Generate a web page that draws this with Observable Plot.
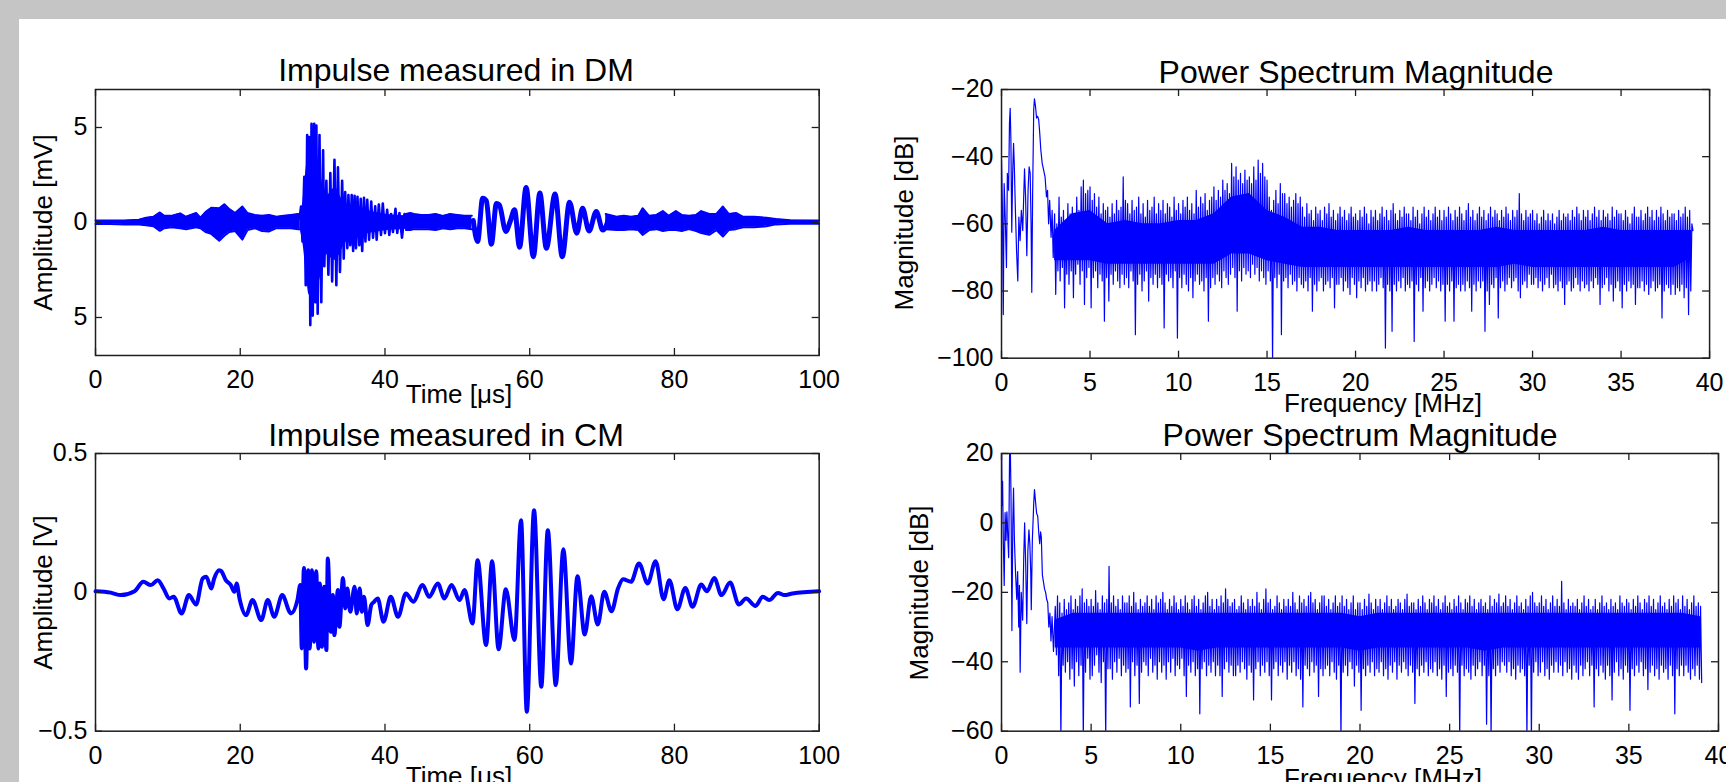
<!DOCTYPE html>
<html>
<head>
<meta charset="utf-8">
<script src="https://cdn.jsdelivr.net/npm/d3@7"></script>
<script src="https://cdn.jsdelivr.net/npm/@observablehq/plot@0.6"></script>
<style>
html, body { margin: 0; padding: 0; width: 1726px; height: 782px; overflow: hidden; background: #c4c5c4; }
#sheet { position: absolute; left: 19px; top: 19px; width: 1720px; height: 780px; background: #ffffff; }
#root { position: absolute; left: 0; top: 0; width: 1726px; height: 782px; overflow: hidden; }
</style>
</head>
<body>
<div id="sheet"></div>
<div id="root"></div>
<script>
// ---------------- DATA ----------------
// Tick values
const timeTicks = [0, 20, 40, 60, 80, 100];
const freqTicks = [0, 5, 10, 15, 20, 25, 30, 35, 40];
const dmYTicks = [-5, 0, 5];
const cmYTicks = [-0.5, 0, 0.5];
const trYTicks = [-100, -80, -60, -40, -20];
const brYTicks = [-60, -40, -20, 0, 20];

// DM impulse: envelope of the dense noise band [µs, mV] (gaps where the burst and the clean oscillation are drawn)
const dmT  = [0, 2, 4, 6, 7, 8, 8.9, 9.5, 10.5, 11.7, 12.5, 13.9, 14.5, 15.2, 16, 17.1, 17.8, 18.5, 19.3, 20.3, 21, 22, 23, 24, 25, 26, 27, 28, 28.3, 28.4, 42.9, 43.5, 44, 45, 46, 47, 48, 49, 50, 51, 52, 52.5, 70.5, 72, 73, 74, 75, 75.6, 76.5, 77.5, 78.4, 79.2, 80.2, 81, 82, 83, 83.7, 84.8, 85.8, 86.7, 87.5, 88.5, 89.5, 91, 92.7, 94, 96, 100];
const dmHi = [0.1, 0.1, 0.1, 0.14, 0.25, 0.3, 0.53, 0.35, 0.35, 0.48, 0.3, 0.5, 0.25, 0.55, 0.78, 0.75, 0.96, 0.7, 0.5, 0.84, 0.5, 0.4, 0.35, 0.4, 0.3, 0.35, 0.4, 0.45, 0.4, NaN, 0.45, 0.5, 0.45, 0.4, 0.4, 0.45, 0.35, 0.45, 0.4, 0.35, 0.35, NaN, 0.45, 0.3, 0.35, 0.3, 0.35, 0.75, 0.35, 0.4, 0.6, 0.35, 0.6, 0.4, 0.35, 0.4, 0.6, 0.45, 0.45, 0.84, 0.45, 0.5, 0.3, 0.3, 0.25, 0.18, 0.12, 0.1];
const dmLo = [-0.08, -0.08, -0.1, -0.1, -0.15, -0.2, -0.44, -0.3, -0.25, -0.3, -0.35, -0.25, -0.3, -0.5, -0.6, -0.96, -0.7, -0.5, -0.45, -0.9, -0.4, -0.3, -0.45, -0.47, -0.3, -0.3, -0.3, -0.35, -0.35, NaN, -0.4, -0.4, -0.35, -0.35, -0.35, -0.4, -0.3, -0.35, -0.3, -0.3, -0.35, NaN, -0.35, -0.4, -0.4, -0.35, -0.4, -0.65, -0.4, -0.35, -0.45, -0.4, -0.4, -0.45, -0.35, -0.45, -0.55, -0.65, -0.4, -0.74, -0.4, -0.35, -0.25, -0.25, -0.2, -0.1, -0.06, -0.06];
// DM impulse: solid inner part of the main burst [µs, mV]
const dmCoreT  = [28.3, 28.7, 29.1, 29.5, 30.0, 30.5, 31.0, 31.5, 32.0, 32.6, 33.2, 33.8, 34.5, 35.3, 36.2, 37.5, 39.0, 41.0, 43.0];
const dmCoreHi = [0.4, 1.2, 2.8, 3.6, 3.9, 3.6, 2.8, 1.8, 1.4, 1.7, 1.8, 1.4, 1.0, 0.9, 0.8, 0.65, 0.5, 0.4, 0.35];
const dmCoreLo = [-0.4, -1.2, -2.6, -3.8, -3.9, -3.5, -3.0, -2.0, -1.7, -1.9, -2.0, -1.6, -1.1, -0.9, -0.8, -0.6, -0.5, -0.4, -0.35];
// DM impulse: main burst, successive spike tips [µs, mV]
const dmBurstT = [28.2, 28.4, 28.6, 28.85, 29.05, 29.25, 29.4, 29.55, 29.68, 29.85, 30.02, 30.22, 30.38, 30.52, 30.7, 30.95, 31.2, 31.45, 31.62, 31.9, 32.18, 32.45, 32.7, 33.02, 33.28, 33.5, 33.78, 34.08, 34.3, 34.5, 34.8, 34.95, 35.2, 35.4, 35.6, 35.8, 36.0, 36.2, 36.45, 36.65, 36.85, 37.1, 37.3, 37.55, 37.8, 38.1, 38.35, 38.65, 38.85, 39.15, 39.45, 39.7, 40.0, 40.3, 40.6, 40.85, 41.1, 41.45, 41.7, 42.0, 42.35, 42.7, 43.0];
const dmBurstV = [0.2, 0.84, -1.0, 2.4, -3.3, 4.6, -2.0, 4.5, -5.4, 5.2, -4.9, 5.2, -4.2, 5.1, -4.8, 4.6, -4.2, 3.8, -2.3, 2.2, -2.75, 2.6, -3.1, 3.3, -3.3, 2.9, -2.6, 2.2, -1.9, 1.6, -1.35, 1.45, -1.2, 1.45, -1.5, 1.4, -1.35, 1.35, -1.2, 1.25, -1.5, 1.3, -1.0, 1.2, -0.9, 1.1, -0.8, 0.85, -0.9, 0.95, -0.65, 1.0, -0.56, 0.67, -0.65, 0.45, -0.5, 0.72, -0.55, 0.5, -0.8, 0.45, -0.35];
// DM impulse: clean oscillation, successive peaks and troughs [µs, mV]
const dmOscT = [52.2, 52.8, 53.5, 54.0, 54.7, 55.4, 55.8, 56.7, 57.3, 57.9, 58.6, 59.5, 60.5, 61.4, 62.3, 63.5, 64.5, 65.5, 66.5, 67.3, 68.2, 69.2, 70.1, 71.0];
const dmOscV = [0.1, -1.0, 1.28, 1.15, -1.14, 1.0, 0.93, -0.47, 0.05, 0.67, -1.3, 1.84, -1.8, 1.55, -1.35, 1.5, -1.8, 1.07, -0.56, 0.75, -0.45, 0.58, -0.4, 0.3];

// CM impulse: successive peaks and troughs [µs, V]
const cmT = [0, 2.1, 3.5, 5.4, 6.6, 7.65, 8.6, 9.4, 10.2, 10.8, 11.9, 12.9, 13.9, 14.8, 15.3, 16.0, 16.4, 17.1, 17.4, 18.0, 18.7, 19.2, 19.5, 19.9, 20.8, 21.7, 22.9, 23.8, 24.7, 25.8, 27.0, 27.9, 28.3, 28.5, 28.8, 29.1, 29.4, 29.6, 29.9, 30.2, 30.5, 30.8, 31.0, 31.3, 31.6, 31.9, 32.1, 32.5, 32.8, 33.0, 33.5, 33.7, 34.2, 34.5, 34.8, 35.2, 35.8, 36.1, 36.5, 36.8, 37.1, 37.6, 38.1, 38.5, 39.0, 39.8, 40.8, 41.8, 42.9, 43.9, 45.2, 46.1, 47.3, 48.2, 49.2, 50.3, 51.0, 52.1, 52.8, 53.97, 54.8, 55.7, 56.7, 57.9, 58.8, 59.6, 60.6, 61.6, 62.5, 63.6, 64.65, 65.7, 66.6, 67.6, 68.5, 69.4, 70.3, 71.3, 72.2, 72.9, 74.0, 75.1, 76.3, 77.4, 78.5, 79.3, 80.4, 81.5, 82.5, 83.7, 84.5, 85.5, 86.5, 87.7, 88.9, 89.9, 91.2, 92.2, 93.1, 94.3, 95.2, 96.3, 100];
const cmV = [0.004, -0.001, -0.010, 0.004, 0.038, 0.026, 0.044, 0.014, -0.022, -0.016, -0.076, -0.010, -0.044, 0.050, 0.056, 0.014, 0.050, 0.080, 0.076, 0.044, 0.026, 0.002, 0.032, -0.022, -0.082, -0.028, -0.100, -0.028, -0.088, -0.010, -0.076, -0.028, 0.026, -0.202, 0.088, -0.274, 0.080, -0.202, 0.080, -0.178, 0.076, -0.202, 0.032, -0.196, 0.020, -0.208, 0.122, -0.142, -0.010, -0.154, 0.008, -0.124, 0.052, -0.058, 0.014, -0.070, 0.020, -0.076, 0.014, -0.070, -0.016, -0.118, -0.046, -0.034, -0.022, -0.106, -0.016, -0.088, -0.004, -0.034, 0.026, -0.016, 0.032, -0.022, 0.026, -0.028, 0.008, -0.112, 0.116, -0.190, 0.112, -0.205, 0.011, -0.172, 0.260, -0.430, 0.296, -0.340, 0.224, -0.334, 0.155, -0.256, 0.058, -0.152, -0.014, -0.116, 0.002, -0.068, 0.014, 0.047, 0.038, 0.104, 0.032, 0.112, -0.025, 0.044, -0.061, 0.016, -0.052, 0.028, 0.004, 0.052, -0.010, 0.035, -0.044, -0.022, -0.049, -0.016, -0.028, -0.002, -0.010, -0.004, 0.004];

// Spectra [MHz, dB]: low-frequency trace, then the upper / lower tip of the trace in each frequency bin
const binStart = 3, binStep = 0.125; // bins of the tip lists below (3 … 39 MHz, one row = 1 MHz)

// DM spectrum
const trHeadF = [0, 0.05, 0.10, 0.15, 0.22, 0.28, 0.33, 0.40, 0.45, 0.49, 0.53, 0.58, 0.63, 0.68, 0.72, 0.78, 0.85, 0.92, 0.98, 1.05, 1.12, 1.20, 1.30, 1.36, 1.43, 1.50, 1.56, 1.62, 1.67, 1.71, 1.76, 1.82, 1.86, 1.92, 1.98, 2.04, 2.10, 2.16, 2.22, 2.30, 2.38, 2.46, 2.54, 2.60, 2.66, 2.72, 2.80, 2.86, 2.92];
const trHeadV = [-41, -55, -87, -48, -60, -73, -45, -50, -30, -25.6, -35, -62.5, -45, -36, -42, -55, -68, -77, -58, -65, -56, -62, -43.6, -52, -69.5, -50, -43, -45, -60, -80.4, -50, -26, -22.8, -25, -28.5, -28, -29, -33, -38, -42, -44, -46, -52, -50, -60, -53, -64, -56, -70];
const trHi = [
  -57, -60, -52, -58, -56, -61, -54, -57,
  -55, -58, -52, -56, -49, -47, -51, -50,
  -49, -53, -51, -55, -52, -57, -54, -56,
  -55, -58, -54, -57, -53, -56, -55, -46,
  -53, -54, -57, -53, -56, -55, -52, -57,
  -54, -58, -53, -56, -55, -52, -57, -54,
  -56, -53, -57, -54, -55, -58, -52, -56,
  -54, -57, -53, -55, -52, -56, -54, -57,
  -50, -55, -52, -54, -51, -56, -53, -52,
  -49, -53, -50, -52, -47, -50, -48, -51,
  -42, -46, -43, -47, -45, -48, -44, -47,
  -46, -48, -43, -47, -41, -45, -42, -46,
  -47, -52, -56, -53, -50, -54, -48, -51,
  -51, -54, -52, -55, -53, -51, -54, -52,
  -55, -58, -54, -57, -56, -59, -55, -57,
  -56, -59, -55, -57, -54, -58, -56, -59,
  -57, -55, -58, -56, -59, -57, -55, -58,
  -57, -59, -56, -58, -55, -57, -60, -56,
  -58, -56, -59, -57, -55, -58, -56, -59,
  -56, -54, -57, -59, -56, -58, -55, -57,
  -57, -59, -55, -58, -56, -60, -57, -55,
  -58, -56, -59, -57, -55, -58, -56, -59,
  -56, -58, -55, -57, -59, -56, -58, -55,
  -57, -59, -56, -54, -58, -56, -59, -57,
  -55, -58, -56, -59, -57, -55, -58, -56,
  -57, -59, -56, -58, -55, -57, -59, -56,
  -58, -56, -51, -57, -59, -56, -58, -57,
  -56, -59, -57, -60, -58, -56, -59, -57,
  -59, -57, -60, -58, -56, -59, -57, -58,
  -57, -59, -56, -58, -55, -57, -59, -56,
  -58, -56, -59, -57, -55, -58, -56, -59,
  -56, -58, -57, -59, -55, -58, -56, -57,
  -57, -59, -56, -58, -60, -57, -55, -58,
  -58, -56, -59, -57, -55, -58, -56, -59,
  -56, -58, -55, -57, -59, -56, -58, -57,
  -57, -59, -56, -58, -57, -55, -58, -56,
  -60];
const trLo = [
  -81, -74, -77, -73, -85, -75, -78, -74,
  -82, -75, -72, -78, -74, -84, -76, -73,
  -85, -76, -74, -79, -75, -77, -89, -76,
  -83, -75, -78, -74, -77, -79, -75, -78,
  -76, -79, -74, -77, -93, -78, -75, -80,
  -77, -74, -83, -76, -78, -75, -79, -76,
  -78, -91, -75, -77, -76, -79, -74, -94,
  -76, -79, -75, -78, -80, -76, -82, -77,
  -75, -78, -77, -80, -76, -89, -79, -76,
  -78, -75, -77, -79, -74, -76, -78, -75,
  -73, -76, -86, -74, -77, -73, -75, -74,
  -76, -72, -75, -73, -77, -74, -76, -78,
  -74, -77, -101, -76, -79, -75, -93, -77,
  -76, -79, -75, -78, -77, -80, -76, -78,
  -79, -77, -80, -76, -86, -78, -80, -77,
  -76, -80, -78, -77, -79, -76, -85, -78,
  -78, -76, -80, -77, -79, -81, -76, -78,
  -82, -77, -79, -76, -80, -78, -77, -80,
  -77, -80, -78, -76, -79, -97, -78, -80,
  -92, -78, -80, -77, -79, -76, -80, -78,
  -79, -77, -95, -78, -80, -76, -86, -79,
  -77, -80, -78, -76, -79, -77, -80, -78,
  -89, -78, -80, -77, -89, -79, -78, -80,
  -78, -80, -77, -79, -86, -78, -80, -77,
  -79, -77, -92, -80, -84, -78, -79, -76,
  -88, -79, -77, -80, -78, -76, -79, -77,
  -76, -80, -82, -78, -77, -79, -75, -78,
  -78, -76, -79, -77, -80, -78, -76, -79,
  -75, -79, -78, -80, -77, -79, -84, -78,
  -77, -80, -79, -76, -78, -80, -77, -79,
  -78, -80, -77, -79, -76, -78, -84, -79,
  -78, -76, -80, -78, -83, -79, -77, -80,
  -85, -78, -80, -77, -79, -78, -84, -79,
  -79, -77, -80, -78, -81, -79, -77, -80,
  -79, -78, -88, -80, -78, -79, -81, -78,
  -81, -79, -80, -78, -82, -79, -87, -80,
  -62];
// DM spectrum: solid core of the noise floor, one value per MHz (3 … 39 MHz)
const trCoreF  = [3, 4, 5, 6, 7, 8, 9, 10, 11, 12, 13, 14, 15, 16, 17, 18, 19, 20, 21, 22, 23, 24, 25, 26, 27, 28, 29, 30, 31, 32, 33, 34, 35, 36, 37, 38, 39];
const trCoreHi = [-62, -57, -56, -60, -59, -60, -60, -59, -59, -57, -52, -51, -56, -58, -61, -61, -62, -62, -62, -62, -61, -62, -62, -62, -62, -61, -62, -62, -62, -62, -62, -61, -62, -62, -62, -62, -62];
const trCoreLo = [-71, -71, -71, -72, -72, -72, -72, -72, -72, -72, -69, -69, -71, -72, -73, -73, -73, -73, -73, -73, -73, -73, -73, -73, -73, -73, -72, -73, -73, -73, -73, -73, -73, -73, -73, -73, -70];

// CM spectrum
const brHeadF = [0, 0.03, 0.06, 0.10, 0.15, 0.20, 0.25, 0.30, 0.35, 0.40, 0.45, 0.49, 0.53, 0.58, 0.63, 0.67, 0.72, 0.78, 0.85, 0.90, 0.96, 1.00, 1.04, 1.10, 1.18, 1.24, 1.29, 1.35, 1.41, 1.47, 1.53, 1.58, 1.63, 1.66, 1.72, 1.80, 1.84, 1.90, 1.96, 2.02, 2.08, 2.13, 2.18, 2.22, 2.28, 2.34, 2.40, 2.46, 2.52, 2.58, 2.64, 2.70, 2.76, 2.82, 2.90];
const brHeadV = [22, 5, 12, -5, -18, 3, -5, 3.2, -4, -10, 20, 22, 8, -31, 0, 10, -5, -14, -22, -14, -30, -18, -43, -20, -28, -10, 0, -12, -29, -8, -2, -6, -14, -25, -5, 6, 9.6, 6, 2.7, 2, -3, -6, -2.6, -4, -15, -17, -19, -20, -22, -23, -30, -26, -34, -27, -37];
const brHi = [
  -24, -21, -23, -26, -22, -25, -23, -21,
  -25, -22, -24, -21, -19, -23, -22, -24,
  -22, -24, -19.5, -23, -25, -21, -23, -22,
  -12.5, -23, -21, -24, -22, -25, -21, -23,
  -23, -21, -24, -20, -23, -25, -22, -24,
  -23, -21, -24, -22, -25, -21, -23, -22,
  -20, -23, -25, -22, -24, -21, -23, -25,
  -22, -24, -21, -23, -25, -22, -21, -24,
  -22, -25, -23, -21, -20, -24, -22, -25,
  -22, -24, -21, -23, -19, -22, -24, -23,
  -22, -25, -24, -21, -23, -25, -22, -24,
  -22, -24, -20, -23, -25, -22, -19, -23,
  -22, -25, -24, -21, -23, -25, -22, -24,
  -22, -24, -20, -23, -25, -21, -23, -22,
  -24, -21, -20, -23, -22, -25, -23, -21,
  -21, -24, -22, -25, -23, -21, -24, -23,
  -21, -24, -22, -25, -23, -21, -25, -23,
  -23, -25, -22, -24, -20.5, -23, -25, -22,
  -24, -22, -25, -23, -21, -24, -22, -25,
  -24, -22, -23, -25, -22, -20.5, -24, -23,
  -23, -25, -22, -24, -21, -23, -25, -22,
  -23, -21, -24, -22, -25, -23, -21, -24,
  -23, -25, -22, -24, -21, -23, -25, -22,
  -23, -21, -24, -22, -25, -23, -22, -24,
  -23, -25, -21, -24, -22, -23, -20.5, -24,
  -23, -21, -24, -22, -25, -23, -21, -24,
  -23, -25, -22, -24, -21, -20, -23, -24,
  -23, -21, -24, -22, -25, -23, -21, -24,
  -22, -24, -16.8, -23, -25, -22, -24, -23,
  -24, -22, -25, -23, -21, -24, -22, -25,
  -24, -22, -25, -23, -21, -24, -23, -25,
  -22, -24, -23, -25, -21, -23, -24, -22,
  -23, -25, -22, -24, -21, -23, -25, -22,
  -23, -21, -24, -22, -25, -23, -21, -24,
  -23, -25, -22, -24, -21, -23, -22, -25,
  -21, -24, -22, -25, -23, -21, -24, -23,
  -24];
const brLo = [
  -38, -44, -62, -41, -43, -40, -45, -42,
  -47, -40, -44, -41, -62, -43, -39, -45,
  -44, -41, -38, -43, -46, -40, -62, -42,
  -42, -45, -40, -43, -39, -44, -41, -43,
  -42, -53, -40, -44, -41, -52, -43, -40,
  -41, -44, -39, -43, -41, -45, -40, -43,
  -41, -45, -40, -43, -39, -44, -41, -42,
  -39, -44, -50, -41, -43, -40, -44, -42,
  -55, -42, -40, -44, -41, -43, -40, -44,
  -41, -44, -50, -42, -40, -43, -41, -44,
  -44, -41, -43, -40, -42, -45, -41, -43,
  -51, -42, -40, -44, -41, -43, -40, -44,
  -51, -42, -40, -44, -41, -43, -40, -45,
  -41, -43, -40, -44, -42, -45, -53, -41,
  -42, -44, -40, -43, -41, -50, -42, -44,
  -42, -41, -44, -40, -43, -45, -41, -62,
  -43, -41, -44, -40, -42, -47, -41, -43,
  -54, -42, -44, -41, -43, -40, -44, -42,
  -43, -40, -44, -42, -45, -41, -43, -40,
  -45, -41, -43, -40, -42, -44, -41, -43,
  -52, -42, -44, -41, -43, -40, -44, -42,
  -43, -40, -44, -42, -45, -41, -50, -43,
  -42, -44, -41, -43, -62, -41, -44, -42,
  -43, -45, -41, -44, -42, -40, -44, -41,
  -58, -44, -62, -42, -44, -41, -43, -40,
  -41, -43, -40, -44, -42, -45, -41, -43,
  -42, -44, -62, -41, -62, -43, -40, -44,
  -43, -40, -44, -42, -45, -41, -43, -40,
  -43, -41, -44, -40, -43, -42, -45, -41,
  -43, -45, -41, -44, -42, -40, -44, -41,
  -53, -42, -44, -41, -43, -45, -41, -44,
  -51, -43, -40, -44, -42, -45, -41, -43,
  -54, -42, -44, -41, -43, -40, -44, -42,
  -48, -43, -41, -44, -42, -45, -41, -43,
  -42, -45, -41, -44, -55, -42, -44, -41,
  -44, -41, -43, -45, -42, -44, -41, -45,
  -46];
// CM spectrum: solid core of the noise floor, one value per MHz (3 … 39 MHz)
const brCoreF  = [3, 4, 5, 6, 7, 8, 9, 10, 11, 12, 13, 14, 15, 16, 17, 18, 19, 20, 21, 22, 23, 24, 25, 26, 27, 28, 29, 30, 31, 32, 33, 34, 35, 36, 37, 38, 39];
const brCoreHi = [-28, -26, -26, -26, -26, -26, -26, -26, -26, -26, -26, -26, -26, -26, -26, -26, -26, -27, -26, -26, -26, -26, -26, -26, -26, -26, -26, -26, -26, -26, -26, -26, -26, -26, -26, -26, -27];
const brCoreLo = [-36, -36, -36, -36, -36, -36, -36, -36, -37, -36, -36, -36, -36, -36, -36, -36, -36, -37, -36, -36, -36, -36, -36, -36, -37, -36, -36, -36, -36, -36, -36, -36, -36, -36, -36, -36, -36];

// ---------------- DRAWING ----------------
const BLUE = "#0000ff";
const INK = "#1e1e1e";
const FONT = "'Liberation Sans', Arial, Helvetica, sans-serif";
const root = document.getElementById("root");

const minus = d => (d < 0 ? "\u2212" : "") + Math.abs(d);

function spectrumPoints(headF, headV, hi, lo) {
  const pts = headF.map((f, i) => ({f, v: headV[i]}));
  hi.forEach((h, i) => {
    const f = binStart + i * binStep;
    pts.push({f, v: h});
    pts.push({f: f + binStep / 2, v: lo[i]});
  });
  return pts;
}

function panel(cfg) {
  const mL = 100, mT = 12, mR = 45, mB = 50, tk = 7;
  const iw = cfg.R - cfg.L, ih = cfg.B - cfg.T;
  const svg = Plot.plot({
    width: mL + iw + mR, height: mT + ih + mB,
    marginLeft: mL, marginRight: mR, marginTop: mT, marginBottom: mB,
    x: {domain: cfg.xDomain},
    y: {domain: cfg.yDomain},
    style: {fontFamily: FONT, fontSize: "25px", background: "transparent", overflow: "visible", color: "#000"},
    marks: [
      ...cfg.marks,
      Plot.frame({stroke: INK, strokeWidth: 1.5}),
      Plot.tickX(cfg.xTicks, {x: d => d, insetTop: ih - tk, stroke: INK, strokeWidth: 1.3}),
      Plot.tickX(cfg.xTicks, {x: d => d, insetBottom: ih - tk, stroke: INK, strokeWidth: 1.3}),
      Plot.tickY(cfg.yTicks, {y: d => d, insetRight: iw - tk, stroke: INK, strokeWidth: 1.3}),
      Plot.tickY(cfg.yTicks, {y: d => d, insetLeft: iw - tk, stroke: INK, strokeWidth: 1.3}),
      Plot.axisX({ticks: cfg.xTicks, tickSize: 0, tickPadding: 15, label: null, fontSize: 25, tickFormat: minus}),
      Plot.axisY({ticks: cfg.yTicks, tickSize: 0, tickPadding: 8, label: null, fontSize: 25, tickFormat: cfg.yFormat})
    ]
  });
  svg.style.position = "absolute";
  svg.style.left = (cfg.L - mL) + "px";
  svg.style.top = (cfg.T - mT) + "px";
  svg.style.maxWidth = "none";
  root.appendChild(svg);
}

// DM impulse
const dmBand = dmT.map((t, i) => ({t, hi: dmHi[i], lo: dmLo[i]}));
const dmCore = dmCoreT.map((t, i) => ({t, hi: dmCoreHi[i], lo: dmCoreLo[i]}));
const dmBurst = dmBurstT.map((t, i) => ({t, v: dmBurstV[i]}));
const dmOsc = dmOscT.map((t, i) => ({t, v: dmOscV[i]}));
panel({
  L: 94.6, R: 818.3, T: 89, B: 355,
  xDomain: [0, 100], yDomain: [-7, 7], xTicks: timeTicks, yTicks: dmYTicks,
  yFormat: d => String(Math.abs(d)),
  marks: [
    Plot.areaY(dmBand, {x: "t", y1: "lo", y2: "hi", fill: BLUE}),
    Plot.line(dmBand, {x: "t", y: "hi", stroke: BLUE, strokeWidth: 2}),
    Plot.line(dmBand, {x: "t", y: "lo", stroke: BLUE, strokeWidth: 2}),
    Plot.areaY(dmCore, {x: "t", y1: "lo", y2: "hi", fill: BLUE, curve: "monotone-x"}),
    Plot.line(dmBurst, {x: "t", y: "v", stroke: BLUE, strokeWidth: 2.6, strokeLinejoin: "round"}),
    Plot.line(dmOsc, {x: "t", y: "v", stroke: BLUE, strokeWidth: 5, curve: "monotone-x"})
  ]
});

// CM impulse
const cm = cmT.map((t, i) => ({t, v: cmV[i]}));
panel({
  L: 94.6, R: 818.3, T: 453.3, B: 731,
  xDomain: [0, 100], yDomain: [-0.5, 0.5], xTicks: timeTicks, yTicks: cmYTicks,
  yFormat: minus,
  marks: [
    Plot.line(cm, {x: "t", y: "v", stroke: BLUE, strokeWidth: 4, curve: "monotone-x"})
  ]
});

// DM spectrum
const trPts = spectrumPoints(trHeadF, trHeadV, trHi, trLo);
const trCore = trCoreF.map((f, i) => ({f, hi: trCoreHi[i], lo: trCoreLo[i]}));
panel({
  L: 1001.3, R: 1709.4, T: 89, B: 357.7,
  xDomain: [0, 40], yDomain: [-100, -20], xTicks: freqTicks, yTicks: trYTicks,
  yFormat: minus,
  marks: [
    Plot.areaY(trCore, {x: "f", y1: "lo", y2: "hi", fill: BLUE}),
    Plot.line(trPts, {x: "f", y: "v", stroke: BLUE, strokeWidth: 1.2, clip: true})
  ]
});

// CM spectrum
const brPts = spectrumPoints(brHeadF, brHeadV, brHi, brLo);
const brCore = brCoreF.map((f, i) => ({f, hi: brCoreHi[i], lo: brCoreLo[i]}));
panel({
  L: 1001.3, R: 1718.3, T: 453.3, B: 731,
  xDomain: [0, 40], yDomain: [-60, 20], xTicks: freqTicks, yTicks: brYTicks,
  yFormat: minus,
  marks: [
    Plot.areaY(brCore, {x: "f", y1: "lo", y2: "hi", fill: BLUE}),
    Plot.line(brPts, {x: "f", y: "v", stroke: BLUE, strokeWidth: 1.2, clip: true})
  ]
});

// ---------------- TEXT LABELS ----------------
const labels = d3.create("svg")
  .attr("width", 1726).attr("height", 782)
  .style("position", "absolute").style("left", "0px").style("top", "0px")
  .style("font-family", FONT).style("overflow", "visible");
const flat = [
  ["Impulse measured in DM", 456, 81, 32],
  ["Power Spectrum Magnitude", 1356, 82.5, 32],
  ["Impulse measured in CM", 446, 445.5, 32],
  ["Power Spectrum Magnitude", 1360, 446, 32],
  ["Time [\u03bcs]", 459, 403, 26],
  ["Frequency [MHz]", 1383, 411.5, 26],
  ["Time [\u03bcs]", 459, 785, 26],
  ["Frequency [MHz]", 1383, 787, 26]
];
flat.forEach(([t, x, y, s]) => {
  labels.append("text").attr("x", x).attr("y", y).attr("text-anchor", "middle")
    .attr("font-size", s).attr("fill", "#000").text(t);
});
const rotated = [
  ["Amplitude [mV]", 52, 222.5],
  ["Magnitude [dB]", 912.5, 223],
  ["Amplitude [V]", 52, 592.5],
  ["Magnitude [dB]", 927.5, 593]
];
rotated.forEach(([t, x, y]) => {
  labels.append("text").attr("transform", `translate(${x},${y}) rotate(-90)`)
    .attr("text-anchor", "middle").attr("font-size", 26).attr("fill", "#000").text(t);
});
root.appendChild(labels.node());
</script>
</body>
</html>
